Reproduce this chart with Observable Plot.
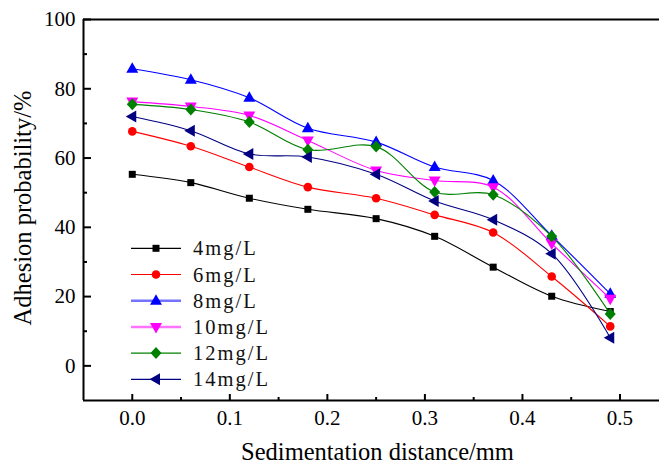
<!DOCTYPE html>
<html><head><meta charset="utf-8">
<script src="https://cdn.jsdelivr.net/npm/d3@7"></script>
<script src="https://cdn.jsdelivr.net/npm/@observablehq/plot@0.6"></script>
<style>
html,body{margin:0;padding:0;background:#fff;overflow:hidden}
#wrap{position:relative;width:659px;height:466px}
#legend{position:absolute;left:0;top:0;pointer-events:none}
</style></head><body><div id="wrap"></div>
<script>
// ---- data ----
const distance = [0, 0.06, 0.12, 0.18, 0.25, 0.31, 0.37, 0.43, 0.49];
const seriesNames = ["4mg/L", "6mg/L", "8mg/L", "10mg/L", "12mg/L", "14mg/L"];
const c4  = [55.3, 52.9, 48.4, 45.2, 42.5, 37.4, 28.5, 20.1, 15.7];
const c6  = [67.7, 63.4, 57.4, 51.6, 48.4, 43.6, 38.5, 25.8, 11.4];
const c8  = [85.8, 82.6, 77.4, 68.6, 64.6, 57.4, 53.5, 37.6, 20.8];
const c10 = [76.3, 74.9, 72.3, 65.1, 56.4, 53.5, 51.6, 35.3, 19.4];
const c12 = [75.5, 74.0, 70.4, 62.4, 63.3, 50.2, 49.4, 37.4, 15.0];
const c14 = [72.0, 67.9, 61.2, 60.3, 55.3, 47.6, 42.2, 32.4, 8.1];
const seriesValues = [c4, c6, c8, c10, c12, c14];
const seriesColors = ["#000000", "#ff0000", "#0000ff", "#ff00ff", "#008000", "#000080"];
const yTicks = [0, 20, 40, 60, 80, 100];
const yMinorTicks = [10, 30, 50, 70, 90];
const xTicks = [0, 0.1, 0.2, 0.3, 0.4, 0.5];
const xMinorTicks = [0.05, 0.15, 0.25, 0.35, 0.45];
const xDomain = [-0.05, 0.5405];
const yDomain = [-10, 100];
const xLabel = "Sedimentation distance/mm";
const yLabel = "Adhesion probability/%";

// ---- symbols ----
const symSquare = {draw(c){ c.rect(-3.5, -3.5, 7, 7); }};
const symCircle = {draw(c){ c.moveTo(4.3, 0); c.arc(0, 0, 4.3, 0, 2 * Math.PI); }};
const symUp = {draw(c){ c.moveTo(0, -6.5); c.lineTo(6, 4); c.lineTo(-6, 4); c.closePath(); }};
const symDown = {draw(c){ c.moveTo(0, 6.5); c.lineTo(6, -4); c.lineTo(-6, -4); c.closePath(); }};
const symDiamond = {draw(c){ c.moveTo(0, -6); c.lineTo(5.5, 0); c.lineTo(0, 6); c.lineTo(-5.5, 0); c.closePath(); }};
const symLeft = {draw(c){ c.moveTo(-6.5, 0); c.lineTo(4, -6); c.lineTo(4, 6); c.closePath(); }};
const seriesSymbols = [symSquare, symCircle, symUp, symDown, symDiamond, symLeft];

const rows = seriesNames.map((name, i) => distance.map((d, j) => ({series: name, x: d, y: seriesValues[i][j]})));

const marks = [];
rows.forEach((r, i) => {
  marks.push(Plot.line(r, {x: "x", y: "y", stroke: seriesColors[i], strokeWidth: 1.1, curve: "catmull-rom"}));
  marks.push(Plot.dot(r, {x: "x", y: "y", fill: seriesColors[i], stroke: "none", symbol: seriesSymbols[i], r: 4}));
});

const chart = Plot.plot({
  width: 659, height: 466,
  marginLeft: 83, marginRight: 0, marginTop: 19, marginBottom: 66,
  x: {domain: xDomain},
  y: {domain: yDomain},
  style: {fontFamily: "'Liberation Serif', 'Times New Roman', serif", fontSize: "21px", background: "white", color: "#000", overflow: "visible"},
  marks: [
    ...marks,
    Plot.ruleY([yDomain[1]], {stroke: "#000", strokeWidth: 2}),
    Plot.ruleY([yDomain[0]], {stroke: "#000", strokeWidth: 2}),
    Plot.ruleX([xDomain[0]], {stroke: "#000", strokeWidth: 2}),
    Plot.axisY({ticks: yTicks, tickSize: 0, tickPadding: 8, fontSize: 21, label: null}),
    Plot.axisY({ticks: yTicks, text: null, tickSize: -8, strokeWidth: 2, label: null}),
    Plot.axisY({ticks: yMinorTicks, text: null, tickSize: -4, strokeWidth: 2, label: null}),
    Plot.axisX({ticks: xTicks, tickSize: 0, tickPadding: 10, fontSize: 21, tickFormat: d3.format(".1f"), label: null}),
    Plot.axisX({ticks: xTicks, text: null, tickSize: -6, strokeWidth: 2, label: null}),
    Plot.axisX({ticks: xMinorTicks, text: null, tickSize: -3, strokeWidth: 2, label: null}),
    Plot.text([xLabel], {text: d => d, frameAnchor: "bottom", dy: 52, dx: 6, fontSize: 24.5, textAnchor: "middle", lineAnchor: "middle"}),
    Plot.text([yLabel], {text: d => d, frameAnchor: "left", rotate: -90, dx: -60, dy: -2, fontSize: 24.5, textAnchor: "middle", lineAnchor: "middle"})
  ]
});
const wrap = document.getElementById("wrap");
wrap.appendChild(chart);

// ---- legend ----
const lg = d3.select(wrap).append("svg").attr("id", "legend").attr("width", 659).attr("height", 466);
seriesNames.forEach((name, i) => {
  const y = 248.3 + i * 26.2;
  const pale = (i === 2 || i === 3);
  lg.append("line").attr("x1", 131).attr("x2", 181).attr("y1", y).attr("y2", y)
    .attr("stroke", seriesColors[i]).attr("stroke-width", pale ? 2.5 : 1.2).attr("stroke-opacity", pale ? 0.55 : 1);
  lg.append("path").attr("transform", `translate(156,${y})`).attr("d", d3.symbol(seriesSymbols[i])()).attr("fill", seriesColors[i]);
  lg.append("text").attr("x", 193).attr("y", y).attr("dy", "0.35em")
    .attr("font-family", "'Liberation Serif', serif").attr("font-size", 20.5).attr("letter-spacing", 2)
    .attr("fill", "#111").text(name);
});
</script></body></html>
